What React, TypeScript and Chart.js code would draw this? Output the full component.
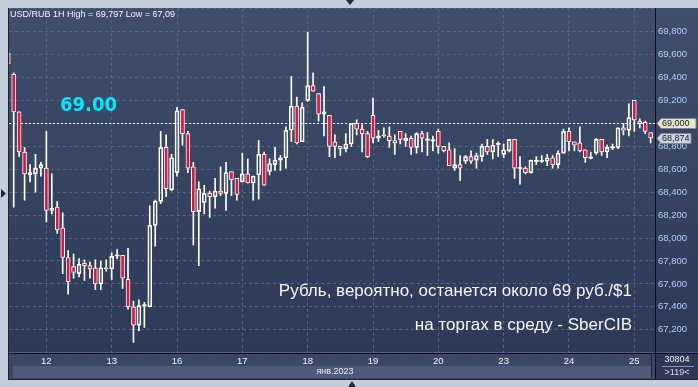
import React, { useEffect, useRef } from 'react';
import { Chart, registerables } from 'chart.js';

Chart.register(...registerables);

// ---- data (hourly candles, first one is partly hidden at the left edge) ----
const opens = [
  69.61, 69.43, 69.10, 68.75, 68.55, 68.56, 68.61, 68.61, 68.24, 68.27,
  68.09, 67.83, 67.75, 67.69, 67.78, 67.76, 67.74, 67.60, 67.73, 67.73,
  67.845, 67.85, 67.64, 67.40, 67.24, 67.41, 67.40, 68.11, 68.32, 68.79,
  68.42, 68.57, 69.12, 68.91, 68.62, 68.23, 68.31, 68.39, 68.36, 68.41,
  68.39, 68.58, 68.52, 68.49, 68.56, 68.48, 68.55, 68.73, 68.58, 68.64,
  68.68, 68.70, 68.94, 69.15, 68.84, 69.20, 69.33, 69.26, 69.08, 69.07,
  68.84, 68.80, 68.78, 68.82, 69.00, 68.95, 68.91, 69.07, 68.87, 68.89,
  68.89, 68.85, 68.93, 68.85, 68.87, 68.79, 68.91, 68.855, 68.85, 68.93,
  68.80, 68.77, 68.61, 68.64, 68.67, 68.71, 68.68, 68.71, 68.80, 68.75,
  68.82, 68.73, 68.76, 68.86, 68.61, 68.61, 68.57, 68.67, 68.67, 68.67,
  68.70, 68.64, 68.74, 68.93, 68.84, 68.83, 68.77, 68.70, 68.74, 68.86,
  68.75, 68.79, 68.79, 68.96, 68.94, 69.20, 69.02, 69.01, 68.92,
];
const highs = [
  69.64, 69.44, 69.10, 68.79, 68.64, 68.73, 68.66, 68.93, 68.56, 68.32,
  68.22, 67.89, 67.86, 67.82, 67.81, 67.79, 67.81, 67.80, 67.81, 67.87,
  67.90, 67.85, 67.91, 67.45, 67.46, 67.44, 68.28, 68.33, 68.93, 68.90,
  68.73, 69.14, 69.12, 68.93, 68.66, 68.49, 68.46, 68.41, 68.52, 68.62,
  68.66, 68.58, 68.52, 68.74, 68.69, 68.54, 68.85, 68.75, 68.69, 68.79,
  68.72, 68.97, 69.41, 69.23, 69.18, 69.797, 69.44, 69.26, 69.32, 69.07,
  68.90, 68.80, 68.91, 69.00, 69.03, 68.99, 68.93, 69.22, 68.94, 68.96,
  68.97, 68.90, 68.93, 68.91, 68.89, 68.92, 68.93, 68.92, 68.89, 68.95,
  68.80, 68.83, 68.78, 68.72, 68.72, 68.76, 68.74, 68.82, 68.86, 68.86,
  68.84, 68.82, 68.86, 68.86, 68.71, 68.62, 68.68, 68.71, 68.72, 68.73,
  68.72, 68.76, 68.95, 68.96, 68.84, 68.97, 68.77, 68.75, 68.87, 68.86,
  68.81, 68.82, 68.96, 69.00, 69.17, 69.20, 69.04, 69.02, 68.92,
];
const lows = [
  69.50, 68.27, 68.71, 68.33, 68.49, 68.40, 68.54, 68.14, 68.21, 68.04,
  67.69, 67.51, 67.65, 67.66, 67.63, 67.65, 67.55, 67.55, 67.71, 67.64,
  67.82, 67.56, 67.38, 67.09, 67.19, 67.22, 67.40, 67.93, 68.30, 68.36,
  68.41, 68.54, 68.81, 68.57, 67.94, 67.76, 68.21, 68.18, 68.26, 68.37,
  68.24, 68.37, 68.33, 68.49, 68.48, 68.33, 68.34, 68.46, 68.55, 68.59,
  68.59, 68.61, 68.84, 68.82, 68.84, 69.19, 69.28, 69.02, 68.89, 68.71,
  68.70, 68.72, 68.75, 68.80, 68.90, 68.75, 68.70, 68.83, 68.84, 68.88,
  68.79, 68.73, 68.82, 68.80, 68.73, 68.74, 68.75, 68.72, 68.76, 68.74,
  68.75, 68.63, 68.59, 68.50, 68.65, 68.65, 68.61, 68.67, 68.73, 68.69,
  68.71, 68.70, 68.75, 68.52, 68.47, 68.56, 68.565, 68.64, 68.66, 68.63,
  68.61, 68.61, 68.74, 68.76, 68.76, 68.75, 68.66, 68.69, 68.73, 68.72,
  68.70, 68.77, 68.78, 68.90, 68.89, 68.93, 68.96, 68.91, 68.83,
];
const closes = [
  69.52, 69.10, 68.75, 68.56, 68.57, 68.61, 68.64, 68.24, 68.26, 68.07,
  67.83, 67.62, 67.70, 67.77, 67.76, 67.73, 67.60, 67.74, 67.74, 67.84,
  67.85, 67.65, 67.40, 67.24, 67.41, 67.415, 68.11, 68.32, 68.79, 68.43,
  68.70, 69.11, 68.91, 68.61, 68.23, 68.43, 68.39, 68.36, 68.41, 68.39,
  68.57, 68.51, 68.38, 68.56, 68.48, 68.54, 68.73, 68.46, 68.65, 68.68,
  68.70, 68.94, 69.15, 68.83, 69.14, 69.33, 69.28, 69.08, 69.10, 68.80,
  68.80, 68.78, 68.82, 69.00, 68.95, 68.91, 68.71, 68.87, 68.89, 68.90,
  68.85, 68.83, 68.86, 68.87, 68.79, 68.91, 68.87, 68.86, 68.853, 68.80,
  68.76, 68.63, 68.64, 68.61, 68.71, 68.67, 68.72, 68.80, 68.75, 68.81,
  68.823, 68.77, 68.86, 68.61, 68.612, 68.57, 68.68, 68.675, 68.674, 68.70,
  68.64, 68.74, 68.93, 68.84, 68.81, 68.76, 68.70, 68.703, 68.86, 68.75,
  68.79, 68.792, 68.96, 68.94, 69.05, 69.03, 69.00, 68.93, 68.874,
];

const dayLabels = ['12', '13', '16', '17', '18', '19', '20', '23', '24', '25'];
const dayTickIndex = [7, 19, 31, 43, 55, 67, 79, 91, 103, 115];

const titleText = 'USD/RUB 1H High = 69,797 Low = 67,09';
const bigLabel = '69.00';
const priceLevel = 69.0;
const lastPrice = 68.874;
const headline1 = 'Рубль, вероятно, останется около 69 руб./$1';
const headline2 = 'на торгах в среду - SberCIB';
const monthLabel = 'янв.2023';
const barsTotal = '30804';
const barsVisible = '>119<';

const RED = '#e3143e';
const WHITE = '#ffffff';
const FONT = '"Liberation Sans", Arial, sans-serif';

const fmt = (v: number, d: number) => v.toFixed(d).replace('.', ',');

export default function App() {
  const ref = useRef<HTMLCanvasElement>(null);

  useEffect(() => {
    const canvas = ref.current!;
    const idx = opens.map((_, i) => i);
    const isDoji = (i: number) => Math.abs(closes[i] - opens[i]) < 0.006;
    const bLo = (i: number) => Math.min(opens[i], closes[i]);
    const bHi = (i: number) => Math.max(opens[i], closes[i]);

    const bodies = idx.map((i) => {
      if (isDoji(i)) {
        const m = (opens[i] + closes[i]) / 2;
        return { x: i, y: [m - 0.0045, m + 0.0045] };
      }
      return { x: i, y: [opens[i], closes[i]] };
    });
    const upperWicks = idx.map((i) => ({ x: i, y: [bHi(i), highs[i]] }));
    const lowerWicks = idx.map((i) => ({ x: i, y: [lows[i], bLo(i)] }));

    const bgPlugin = {
      id: 'bg',
      beforeDraw(chart: any) {
        const { ctx, chartArea: a } = chart;
        const W = chart.width;
        const H = chart.height;
        ctx.save();
        ctx.fillStyle = '#c3cedb';
        ctx.fillRect(0, 0, W, H);
        const g = ctx.createLinearGradient(0, 8, 0, a.bottom);
        g.addColorStop(0, '#3f4e6b');
        g.addColorStop(1, '#2c3a57');
        ctx.fillStyle = g;
        ctx.fillRect(8, 8, W - 8, a.bottom - 8);
        ctx.fillStyle = '#3a4866';
        ctx.fillRect(8, a.bottom, a.right - 8, 379 - a.bottom);
        ctx.fillStyle = '#4d5b79';
        ctx.fillRect(13, 366, 638, 12);
        ctx.fillStyle = '#2c3854';
        ctx.fillRect(a.right, a.bottom, W - a.right, 379 - a.bottom);
        ctx.restore();
      },
      beforeDatasetsDraw(chart: any) {
        const { ctx, chartArea: a, scales } = chart;
        const y = Math.round(scales.y.getPixelForValue(priceLevel)) + 0.5;
        ctx.save();
        ctx.strokeStyle = '#e6e9ef';
        ctx.lineWidth = 1;
        ctx.setLineDash([2, 2]);
        ctx.beginPath();
        ctx.moveTo(a.left, y);
        ctx.lineTo(a.right, y);
        ctx.stroke();
        ctx.restore();
      },
      afterDraw(chart: any) {
        const { ctx, chartArea: a, scales } = chart;
        const W = chart.width;
        ctx.save();
        // borders
        ctx.strokeStyle = '#0c0f16';
        ctx.lineWidth = 1;
        ctx.beginPath();
        ctx.moveTo(Math.round(a.right) + 0.5, 8);
        ctx.lineTo(Math.round(a.right) + 0.5, 379);
        ctx.moveTo(8, Math.round(a.bottom) + 0.5);
        ctx.lineTo(W, Math.round(a.bottom) + 0.5);
        ctx.stroke();
        ctx.strokeStyle = '#1b2333';
        ctx.beginPath();
        ctx.moveTo(8.5, 8);
        ctx.lineTo(8.5, 379);
        ctx.moveTo(8, 379.5);
        ctx.lineTo(W, 379.5);
        ctx.stroke();
        ctx.strokeStyle = '#1f2839';
        ctx.beginPath();
        ctx.moveTo(651.5, 355);
        ctx.lineTo(651.5, 378);
        ctx.stroke();

        // title
        ctx.fillStyle = '#f2f4f8';
        ctx.font = `9px ${FONT}`;
        ctx.textBaseline = 'middle';
        ctx.textAlign = 'left';
        ctx.fillText(titleText, 10, 15);

        // big cyan level
        ctx.fillStyle = '#00e8fb';
        ctx.font = 'bold 20px "DejaVu Sans Condensed", "DejaVu Sans", sans-serif';
        ctx.textBaseline = 'alphabetic';
        ctx.fillText(bigLabel, 60, 110.5);

        // headlines
        ctx.fillStyle = '#f4f6fa';
        ctx.font = `17px ${FONT}`;
        ctx.textAlign = 'right';
        ctx.fillText(headline1, 632, 295.5);
        ctx.fillText(headline2, 632, 329.5);

        // month band
        ctx.textAlign = 'center';
        ctx.textBaseline = 'middle';
        ctx.font = `9px ${FONT}`;
        ctx.fillStyle = '#e8edf5';
        ctx.fillText(monthLabel, 335, 372);

        // bottom right box
        ctx.fillStyle = '#e8eef6';
        ctx.fillText(barsTotal, 677, 360);
        ctx.strokeStyle = '#8a97ad';
        ctx.beginPath();
        ctx.moveTo(662, 366.5);
        ctx.lineTo(694, 366.5);
        ctx.stroke();
        ctx.fillStyle = '#cfdcef';
        ctx.fillText(barsVisible, 677, 372.5);

        // price flags
        const flag = (v: number, w: number, fill: string, label: string) => {
          const y = Math.round(scales.y.getPixelForValue(v)) + 0.5;
          ctx.beginPath();
          ctx.moveTo(657, y);
          ctx.lineTo(661, y - 5);
          ctx.lineTo(661 + w, y - 5);
          ctx.lineTo(661 + w, y + 5);
          ctx.lineTo(661, y + 5);
          ctx.closePath();
          ctx.fillStyle = fill;
          ctx.fill();
          ctx.strokeStyle = '#7d8796';
          ctx.stroke();
          ctx.fillStyle = '#1a1d24';
          ctx.textAlign = 'left';
          ctx.font = `9px ${FONT}`;
          ctx.fillText(label, 662, y + 0.5);
        };
        flag(lastPrice, 30, '#c9d3e1', fmt(lastPrice, 3));
        flag(priceLevel, 35, '#e6e6c8', fmt(priceLevel, 3));

        // triangles
        ctx.fillStyle = '#1e2a40';
        ctx.beginPath();
        ctx.moveTo(1, 189);
        ctx.lineTo(6, 193.5);
        ctx.lineTo(1, 198);
        ctx.closePath();
        ctx.fill();
        ctx.beginPath();
        ctx.moveTo(346, 0);
        ctx.lineTo(354, 0);
        ctx.lineTo(350, 5);
        ctx.closePath();
        ctx.fill();
        ctx.beginPath();
        ctx.moveTo(348, 387);
        ctx.lineTo(356, 387);
        ctx.lineTo(352, 381);
        ctx.closePath();
        ctx.fill();
        ctx.restore();
      },
    };

    const chart = new Chart(canvas, {
      type: 'bar',
      data: {
        datasets: [
          {
            label: 'body',
            data: bodies as any,
            grouped: false,
            barThickness: 4,
            borderSkipped: false,
            borderWidth: idx.map((i) => (isDoji(i) ? 0 : 1)),
            borderColor: WHITE,
            backgroundColor: idx.map((i) =>
              isDoji(i) ? WHITE : closes[i] < opens[i] ? RED : 'rgba(0,0,0,0)'
            ),
            clip: 0,
          } as any,
          {
            label: 'upper',
            data: upperWicks as any,
            grouped: false,
            barThickness: 1,
            borderWidth: 0,
            backgroundColor: WHITE,
            clip: 0,
          } as any,
          {
            label: 'lower',
            data: lowerWicks as any,
            grouped: false,
            barThickness: 1,
            borderWidth: 0,
            backgroundColor: WHITE,
            clip: 0,
          } as any,
        ],
      },
      options: {
        animation: false,
        responsive: false,
        maintainAspectRatio: false,
        devicePixelRatio: 1,
        events: [],
        layout: { padding: { left: 9, top: 8, right: 0, bottom: 8 } },
        plugins: { legend: { display: false }, tooltip: { enabled: false } },
        scales: {
          x: {
            type: 'linear',
            min: 0.137,
            max: 118.8,
            offset: false,
            afterBuildTicks: (s: any) => {
              s.ticks = dayTickIndex.map((v) => ({ value: v }));
            },
            afterFit: (s: any) => {
              s.height = 26.3;
            },
            ticks: {
              autoSkip: false,
              maxRotation: 0,
              padding: 3,
              color: '#eef2f8',
              font: { family: FONT, size: 9.5 },
              callback: (_v: any, i: number) => dayLabels[i],
            },
            grid: { color: '#56657f', drawTicks: false, offset: false },
            border: { display: false, dash: [3, 3] },
          },
          y: {
            type: 'linear',
            position: 'right',
            min: 67,
            max: 70,
            afterFit: (s: any) => {
              s.width = 43;
            },
            ticks: {
              stepSize: 0.2,
              padding: 3,
              color: '#b2cdf1',
              font: { family: FONT, size: 9.5 },
              crossAlign: 'near',
              callback: (v: any) => {
                const x = Number(v);
                if (x < 67.1 || x > 69.9) return '';
                return fmt(x, 3);
              },
            },
            grid: { color: '#56657f', drawTicks: false },
            border: { display: false, dash: [3, 3] },
          },
        },
      } as any,
      plugins: [bgPlugin],
    });

    return () => chart.destroy();
  }, []);

  return (
    <div style={{ position: 'fixed', left: 0, top: 0, width: 698, height: 387 }}>
      <canvas ref={ref} width={698} height={387} style={{ display: 'block', width: 698, height: 387 }} />
    </div>
  );
}
